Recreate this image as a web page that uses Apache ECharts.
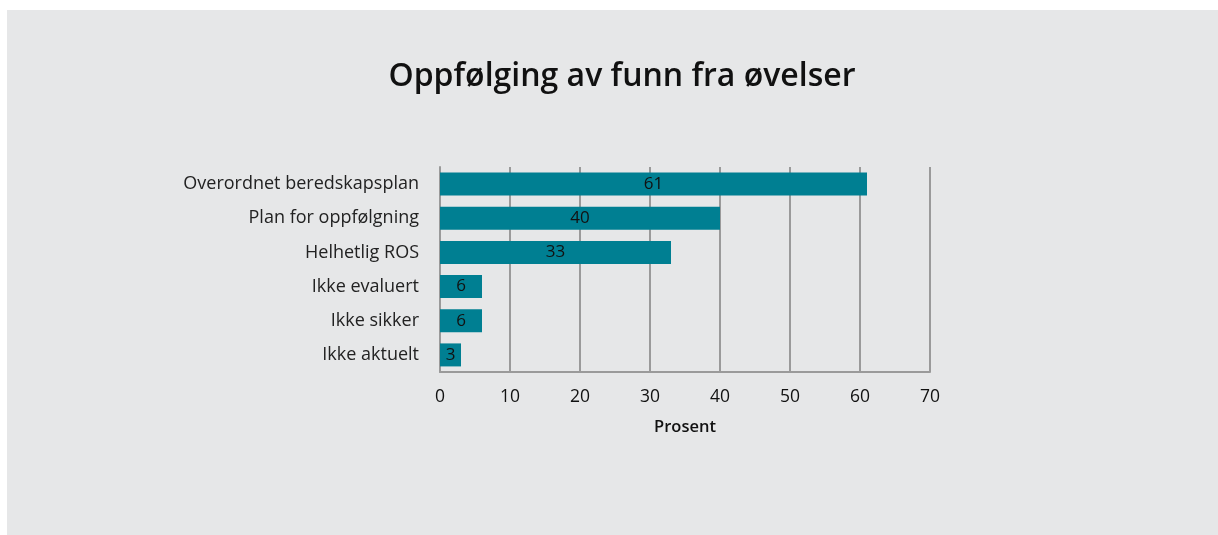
<!DOCTYPE html>
<html>
<head>
<meta charset="utf-8">
<script src="https://cdn.jsdelivr.net/npm/echarts@6/dist/echarts.min.js"></script>
<style>
  html, body { margin: 0; padding: 0; background: #ffffff; }
  #main { position: absolute; left: 7px; top: 10px; width: 1211px; height: 525px; background: #e6e7e8; }
</style>
</head>
<body>
<div id="main"></div>
<script>
// data, top to bottom as in the picture
const categories = ['Overordnet beredskapsplan', 'Plan for oppfølgning', 'Helhetlig ROS', 'Ikke evaluert', 'Ikke sikker', 'Ikke aktuelt'];
const values = [61, 40, 33, 6, 6, 3];

const chart = echarts.init(document.getElementById('main'));
const fontFamily = '"Open Sans", Lato, sans-serif';

chart.setOption({
    backgroundColor: '#e6e7e8',
    title: {
        text: 'Oppfølging av funn fra øvelser',
        left: 610,
        top: 46,
        textAlign: 'center',
        textStyle: { fontSize: 32, fontWeight: 600, color: '#111', fontFamily: fontFamily }
    },
    grid: { left: 433, top: 157, width: 490, height: 205 },
    xAxis: {
        type: 'value',
        min: 0,
        max: 70,
        interval: 10,
        name: 'Prosent',
        nameLocation: 'middle',
        nameGap: 47,
        nameTextStyle: { fontSize: 16.5, fontWeight: 600, color: '#111', fontFamily: fontFamily },
        axisLine: { show: true, lineStyle: { color: '#9a9a9a', width: 2 } },
        axisTick: { show: false },
        axisLabel: { margin: 16, fontSize: 17.5, color: '#111', fontFamily: fontFamily },
        splitLine: { show: true, lineStyle: { color: '#9a9a9a', width: 2 } }
    },
    yAxis: {
        type: 'category',
        data: categories,
        inverse: true,
        axisLine: { show: true, lineStyle: { color: '#9a9a9a', width: 2 } },
        axisTick: { show: false },
        axisLabel: { margin: 21, fontSize: 18, color: '#222', fontFamily: fontFamily }
    },
    series: [{
        type: 'bar',
        data: values,
        barWidth: 23,
        itemStyle: { color: '#007f92' },
        label: {
            show: true,
            position: 'inside',
            fontSize: 17,
            color: '#111',
            fontFamily: fontFamily
        },
        silent: true
    }]
});
</script>
</body>
</html>
